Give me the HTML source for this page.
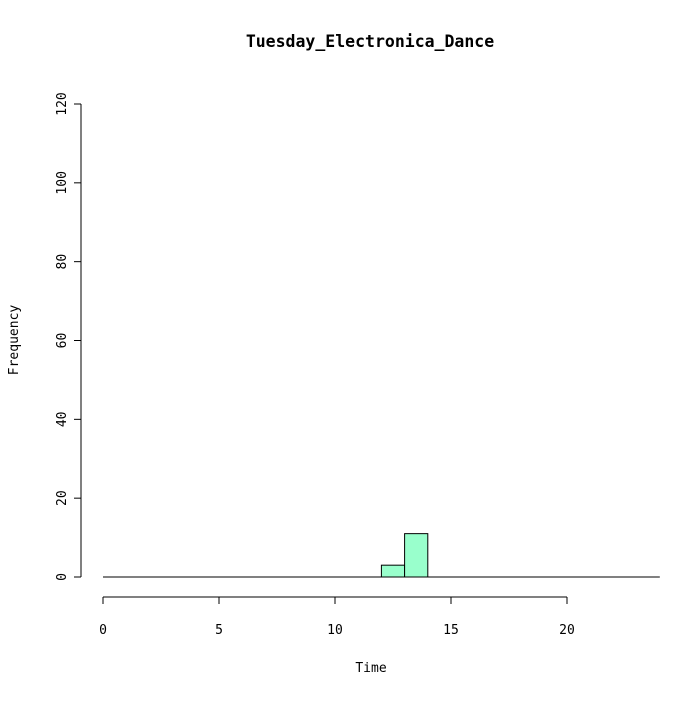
<!DOCTYPE html>
<html><head><meta charset="utf-8"><style>
body{margin:0;background:#fff}
svg text{font-family:"DejaVu Sans Mono","Liberation Mono",monospace;font-size:13px;fill:#000}
</style></head><body>
<svg width="699" height="699">
<text x="370" y="47" text-anchor="middle" style="font-weight:bold;font-size:16.5px">Tuesday_Electronica_Dance</text>
<text x="371" y="672" text-anchor="middle">Time</text>
<text transform="translate(18,340) rotate(-90)" text-anchor="middle">Frequency</text>
<g id="bars"></g><g id="xa"></g><g id="ya"></g>
</svg>
<script>
const binStarts=[0,1,2,3,4,5,6,7,8,9,10,11,12,13,14,15,16,17,18,19,20,21,22,23];
const counts=[0,0,0,0,0,0,0,0,0,0,0,0,3,11,0,0,0,0,0,0,0,0,0,0];
const xTicks=[0,5,10,15,20];
const yTicks=[0,20,40,60,80,100,120];
const NS="http://www.w3.org/2000/svg";
const X=v=>103+v*23.2, Y=v=>577-v*(473/120);
function mk(t,a,p){const e=document.createElementNS(NS,t);for(const k in a)e.setAttribute(k,a[k]);p.appendChild(e);return e;}
const bars=document.getElementById('bars');
const base=mk('line',{x1:X(binStarts[0]),x2:X(binStarts[binStarts.length-1]+1),y1:Y(0),y2:Y(0),stroke:'#000'},bars);


binStarts.forEach((s,i)=>{
  if(counts[i]<=0)return;
  const r=mk('rect',{x:X(s),y:Y(counts[i]),width:X(s+1)-X(s),height:Y(0)-Y(counts[i]),fill:'#99ffcc',stroke:'#000','stroke-width':1},bars);
  
  
});
const xa=document.getElementById('xa');
mk('line',{x1:X(xTicks[0]),x2:X(xTicks[xTicks.length-1]),y1:597,y2:597,stroke:'#000'},xa);
xTicks.forEach(t=>{mk('line',{x1:X(t),x2:X(t),y1:597,y2:604,stroke:'#000'},xa);
  const tx=mk('text',{x:X(t),y:634,'text-anchor':'middle'},xa);tx.textContent=t;
  
  });
const ya=document.getElementById('ya');
mk('line',{x1:81,x2:81,y1:Y(yTicks[0]),y2:Y(yTicks[yTicks.length-1]),stroke:'#000'},ya);
yTicks.forEach(t=>{mk('line',{x1:74,x2:81,y1:Y(t),y2:Y(t),stroke:'#000'},ya);
  const tx=mk('text',{transform:`translate(66,${Y(t)}) rotate(-90)`,'text-anchor':'middle'},ya);tx.textContent=t;
  
  });
</script>
</body></html>
